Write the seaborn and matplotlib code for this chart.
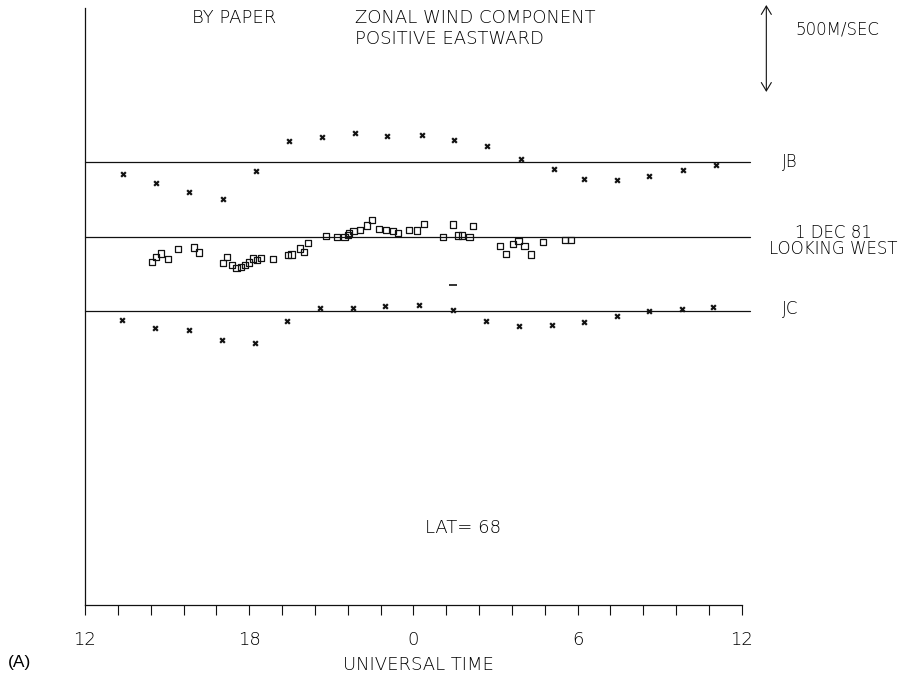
import numpy as np
import pandas as pd
import matplotlib
matplotlib.use("Agg")
import matplotlib.pyplot as plt
import seaborn as sns

# ---------------- data (zonal wind, m/s, positive eastward) ----------------
jb_time = [13.4, 14.6, 15.8, 17.05, 18.25, 19.45, 20.65, 21.85, 23.05, 24.3,
           25.5, 26.7, 27.95, 29.15, 30.25, 31.45, 32.6, 33.85, 35.05]
jb_wind = [-69, -119, -173, -213, -50, 121, 144, 167, 148, 155,
           127, 90, 15, -40, -96, -106, -81, -46, -19]

jc_time = [13.35, 14.55, 15.8, 17.0, 18.2, 19.4, 20.6, 21.8, 22.95, 24.2,
           25.45, 26.65, 27.85, 29.05, 30.25, 31.45, 32.6, 33.8, 34.95]
jc_wind = [-51, -94, -105, -166, -183, -53, 18, 20, 30, 35,
           7, -54, -81, -75, -58, -27, 0, 13, 23]
jc_extra_time = [25.45]
jc_extra_wind = [155]

west_time = [14.44, 14.60, 14.77, 15.04, 15.39, 15.99, 16.16, 17.05, 17.20, 17.36,
             17.54, 17.69, 17.85, 17.99, 18.13, 18.28, 18.43, 18.88, 19.43, 19.55,
             19.86, 20.00, 20.14, 20.81, 21.20, 21.48, 21.60, 21.66, 21.81, 22.05,
             22.32, 22.48, 22.75, 23.00, 23.27, 23.45, 23.85, 24.12, 24.39, 25.07,
             25.44, 25.64, 25.77, 26.05, 26.19, 27.17, 27.39, 27.63, 27.84, 28.06,
             28.29, 28.73, 29.54, 29.75]
west_wind = [-145, -114, -95, -125, -67, -60, -89, -148, -116, -163,
             -178, -172, -159, -147, -124, -132, -119, -128, -102, -101,
             -66, -86, -33, 6, 1, -2, 13, 21, 33, 41,
             66, 99, 48, 39, 35, 24, 40, 37, 76, 1,
             72, 9, 9, 2, 64, -53, -97, -39, -25, -51,
             -101, -27, -17, -16]

tick_labels = ["12", "18", "0", "6", "12"]
scale_speed = 500  # m/s

# ---------------- layout ----------------
W, H = 905, 680
PX = 5.75                     # m/s per pixel
AX_L, AX_R, AX_B, AX_T = 85, 741.7, 605, 8

def fy(y):
    return 1 - y / H

def fx(x):
    return x / W

sns.set_theme(style="white")
plt.rcParams["font.family"] = ["DejaVu Sans"]

fig = plt.figure(figsize=(W / 100, H / 100), dpi=100)
ax = fig.add_axes([fx(AX_L), fy(AX_B), (AX_R - AX_L) / W, (AX_B - AX_T) / H])
ax.set_xlim(12, 36)
ax.set_ylim(0, (AX_B - AX_T) * PX)

JB_OFF = (AX_B - 162) * PX
WEST_OFF = (AX_B - 237) * PX
JC_OFF = (AX_B - 311.5) * PX

ink = "#111111"
for off in (JB_OFF, WEST_OFF, JC_OFF):
    ax.plot([12, 36.3], [off, off], color=ink, lw=0.9, clip_on=False, zorder=1)

df_jb = pd.DataFrame({"t": jb_time, "v": np.array(jb_wind) + JB_OFF})
df_jc = pd.DataFrame({"t": jc_time, "v": np.array(jc_wind) + JC_OFF})
df_w = pd.DataFrame({"t": west_time, "v": np.array(west_wind) + WEST_OFF})

sns.scatterplot(data=df_jb, x="t", y="v", marker="X", s=20, color=ink,
                linewidth=0, ax=ax, zorder=3)
sns.scatterplot(data=df_jc, x="t", y="v", marker="X", s=20, color=ink,
                linewidth=0, ax=ax, zorder=3)
ax.scatter(jc_extra_time, np.array(jc_extra_wind) + JC_OFF, marker="_", s=30,
           color=ink, linewidths=1.2, zorder=3)
sns.scatterplot(data=df_w, x="t", y="v", marker="s", s=20, facecolor="none",
                edgecolor=ink, linewidth=0.9, ax=ax, zorder=3)

# scale arrow (500 m/s)
top = (AX_B - 5) * PX
ax.annotate("", xy=(36.9, top), xytext=(36.9, top - scale_speed),
            arrowprops=dict(arrowstyle="<->,head_length=0.5,head_width=0.3",
                            lw=0.8, color=ink, shrinkA=0, shrinkB=0),
            annotation_clip=False)

# axes styling
for s in ("top", "right"):
    ax.spines[s].set_visible(False)
for s in ("left", "bottom"):
    ax.spines[s].set_color(ink)
    ax.spines[s].set_linewidth(0.9)
ticks = np.round(np.arange(0, 21) * 1.2 + 12, 3)
ax.set_xticks(ticks)
labs = [""] * len(ticks)
for i, lab in zip([0, 5, 10, 15, 20], tick_labels):
    labs[i] = lab
ax.set_xticklabels(labs, fontweight=200)
ax.set_yticks([])
ax.tick_params(axis="x", direction="out", length=7, width=0.8, color=ink,
               pad=12, labelsize=13, labelcolor="black", bottom=True)
ax.set_xlabel("")
ax.set_ylabel("")

txt = dict(color="black", fontsize=13, va="center", fontweight=200)
small = dict(color="black", fontsize=12, va="center", fontweight=200)
fig.text(fx(192), fy(18), "BY PAPER", ha="left", **txt)
fig.text(fx(355), fy(18), "ZONAL WIND COMPONENT", ha="left", **txt)
fig.text(fx(355), fy(39), "POSITIVE EASTWARD", ha="left", **txt)
fig.text(fx(795), fy(29), "500M/SEC", ha="left", **small)
fig.text(fx(782), fy(162), "JB", ha="left", **small)
fig.text(fx(833), fy(241), "1 DEC 81\nLOOKING WEST", ha="center",
         multialignment="center", linespacing=0.85, **small)
fig.text(fx(782), fy(309), "JC", ha="left", **small)
fig.text(fx(425), fy(528), "LAT= 68", ha="left", **txt)
fig.text(fx(343), fy(665), "UNIVERSAL TIME", ha="left", **txt)
fig.text(fx(8), fy(662), "(A)", ha="left", color="black", fontsize=12.5,
         va="center", family=["Liberation Sans", "DejaVu Sans"])

fig.savefig("out.png", dpi=100, facecolor="white")
